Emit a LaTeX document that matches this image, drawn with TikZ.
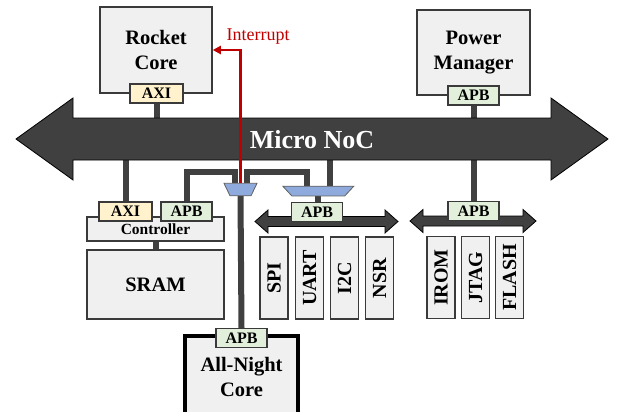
\documentclass[tikz,border=0pt]{standalone}
\usepackage{fontspec}
\setmainfont{Liberation Serif}
\usetikzlibrary{arrows.meta,calc}

\definecolor{boxfill}{HTML}{F0F0F0}
\definecolor{edge}{HTML}{3A3A3A}
\definecolor{wire}{HTML}{404040}
\definecolor{axifill}{HTML}{FFF2CC}
\definecolor{apbfill}{HTML}{E2EFDA}
\definecolor{muxfill}{HTML}{8FAADC}
\definecolor{irq}{HTML}{C00000}

\pgfdeclarelayer{wires}
\pgfdeclarelayer{buses}
\pgfsetlayers{wires,buses,main}

\tikzset{
  block/.style={draw=edge, fill=boxfill, line width=1.5pt, inner sep=0pt, align=center,
    font=\fontsize{20.5}{25.5}\selectfont\bfseries},
  tab/.style={draw=edge, line width=1.1pt, inner sep=0pt, minimum height=19pt,
    font=\fontsize{16}{16}\selectfont\bfseries},
  axitab/.style={tab, fill=axifill, minimum width=53pt},
  apbtab/.style={tab, fill=apbfill, minimum width=51pt},
  periph/.style={block, rotate=90, minimum width=82pt, minimum height=28pt,
    font=\fontsize{20}{20}\selectfont\bfseries},
  muxshape/.style={draw=edge!80, line width=0.8pt, fill=muxfill},
  conn/.style={draw=wire, line width=6pt},
  irqline/.style={draw=irq, line width=2.4pt, -{Triangle[length=8pt,width=8pt]}},
  bus/.style={fill=wire, draw=black, line width=0.8pt},
  pics/busarrow/.style={code={
    \path[bus] (0,0) -- (13,-11.5) -- (13,-5) -- (#1-13,-5) -- (#1-13,-11.5) -- (#1,0)
      -- (#1-13,11.5) -- (#1-13,5) -- (13,5) -- (13,11.5) -- cycle;}}
}

\begin{document}
\begin{tikzpicture}[x=1pt,y=-1pt]
\useasboundingbox (0,0) rectangle (621,412);

% cores and power manager
\node[block, minimum width=112pt, minimum height=86pt] (rocket) at (156,50) {Rocket\\Core};
\node[axitab] (rocketaxi) at (156.5,93.5) {AXI};
\node[block, minimum width=113pt, minimum height=85pt] (pm) at (473.5,52.5) {Power\\Manager};
\node[apbtab] (pmapb) at (473.5,95.5) {APB};

% memory subsystem
\node[block, minimum width=137pt, minimum height=24pt,
  font=\fontsize{15.5}{15.5}\selectfont\bfseries] (ctrl) at (155.5,229) {Controller};
\node[axitab] (caxi) at (125.5,211.5) {AXI};
\node[apbtab] (capb) at (186.5,211.5) {APB};
\node[block, minimum width=137pt, minimum height=69pt] (sram) at (155.5,284.5) {SRAM};

% multiplexers (wide side up)
\coordinate (mux1n) at (240.5,183.3);
\coordinate (mux1s) at (240.5,195.8);
\path[muxshape] (224,183.3) -- (257,183.3) -- (251,195.8) -- (230,195.8) -- cycle;
\coordinate (mux2n) at (318.3,186.2);
\coordinate (mux2s) at (318.3,195.9);
\path[muxshape] (282.8,186.2) -- (353.8,186.2) -- (344.8,195.9) -- (291.8,195.9) -- cycle;

% peripheral buses and the Micro NoC
\begin{pgfonlayer}{buses}
  \pic at (255,221.5) {busarrow=143};
  \pic at (410,221) {busarrow=126};
  \path[bus] (16,139) -- (73,98) -- (73,118) -- (551,118) -- (551,98) -- (608,139)
    -- (551,180) -- (551,160) -- (73,160) -- (73,180) -- cycle;
\end{pgfonlayer}
\coordinate (nocc) at (312,139);
\coordinate (bar) at (0,172);
\node[text=white, font=\fontsize{26}{26}\selectfont\bfseries] (noc) at (312,140) {Micro NoC};

\node[apbtab] (b1apb) at (317,212) {APB};
\node[apbtab] (b2apb) at (473.5,211) {APB};

\node[periph] (spi) at (274,278) {SPI};
\node[periph] (uart) at (309.5,278) {UART};
\node[periph] (i2c) at (344.5,278) {I2C};
\node[periph] (nsr) at (379.5,278) {NSR};
\node[periph] (irom) at (441,277.5) {IROM};
\node[periph] (jtag) at (475.5,277.5) {JTAG};
\node[periph] (flash) at (509.5,277.5) {FLASH};

% always-on core
\node[block, draw=black, line width=4pt, minimum width=113pt, minimum height=82pt] (anc)
  at (241.5,377) {All-Night\\Core};
\node[apbtab] (ancapb) at (241.5,338) {APB};

% mux inputs
\coordinate (m1l) at ([xshift=-6pt]mux1n);
\coordinate (m1r) at ([xshift=6pt]mux1n);
\coordinate (m2l) at ([xshift=-11.5pt]mux2n);
\coordinate (m2r) at ([xshift=12pt]mux2n);

\begin{pgfonlayer}{wires}
  \draw[conn] (rocketaxi.south) -- (rocketaxi.south |- nocc);
  \draw[conn] (pmapb.south) -- (b2apb.north);
  \draw[conn] (caxi.north) -- (caxi.north |- nocc);
  \draw[conn] (ctrl.south) -- (sram.north);
  \draw[conn] (capb.north) |- (m1l |- bar) -- (m1l);
  \draw[conn] (m1r) |- (m2l |- bar) -- (m2l);
  \draw[conn] (m2r |- nocc) -- (m2r);
  \draw[conn] (mux2s) -- (mux2s |- b1apb.north);
  \draw[conn] (mux1s) -- (ancapb.north);
\end{pgfonlayer}

% interrupt to the Rocket core
\draw[irqline] (mux1n) |- (rocket.east);
\node[text=irq, font=\fontsize{18}{18}\selectfont, anchor=west] (irqlbl) at (223,37) {Interrupt};
\end{tikzpicture}
\end{document}
